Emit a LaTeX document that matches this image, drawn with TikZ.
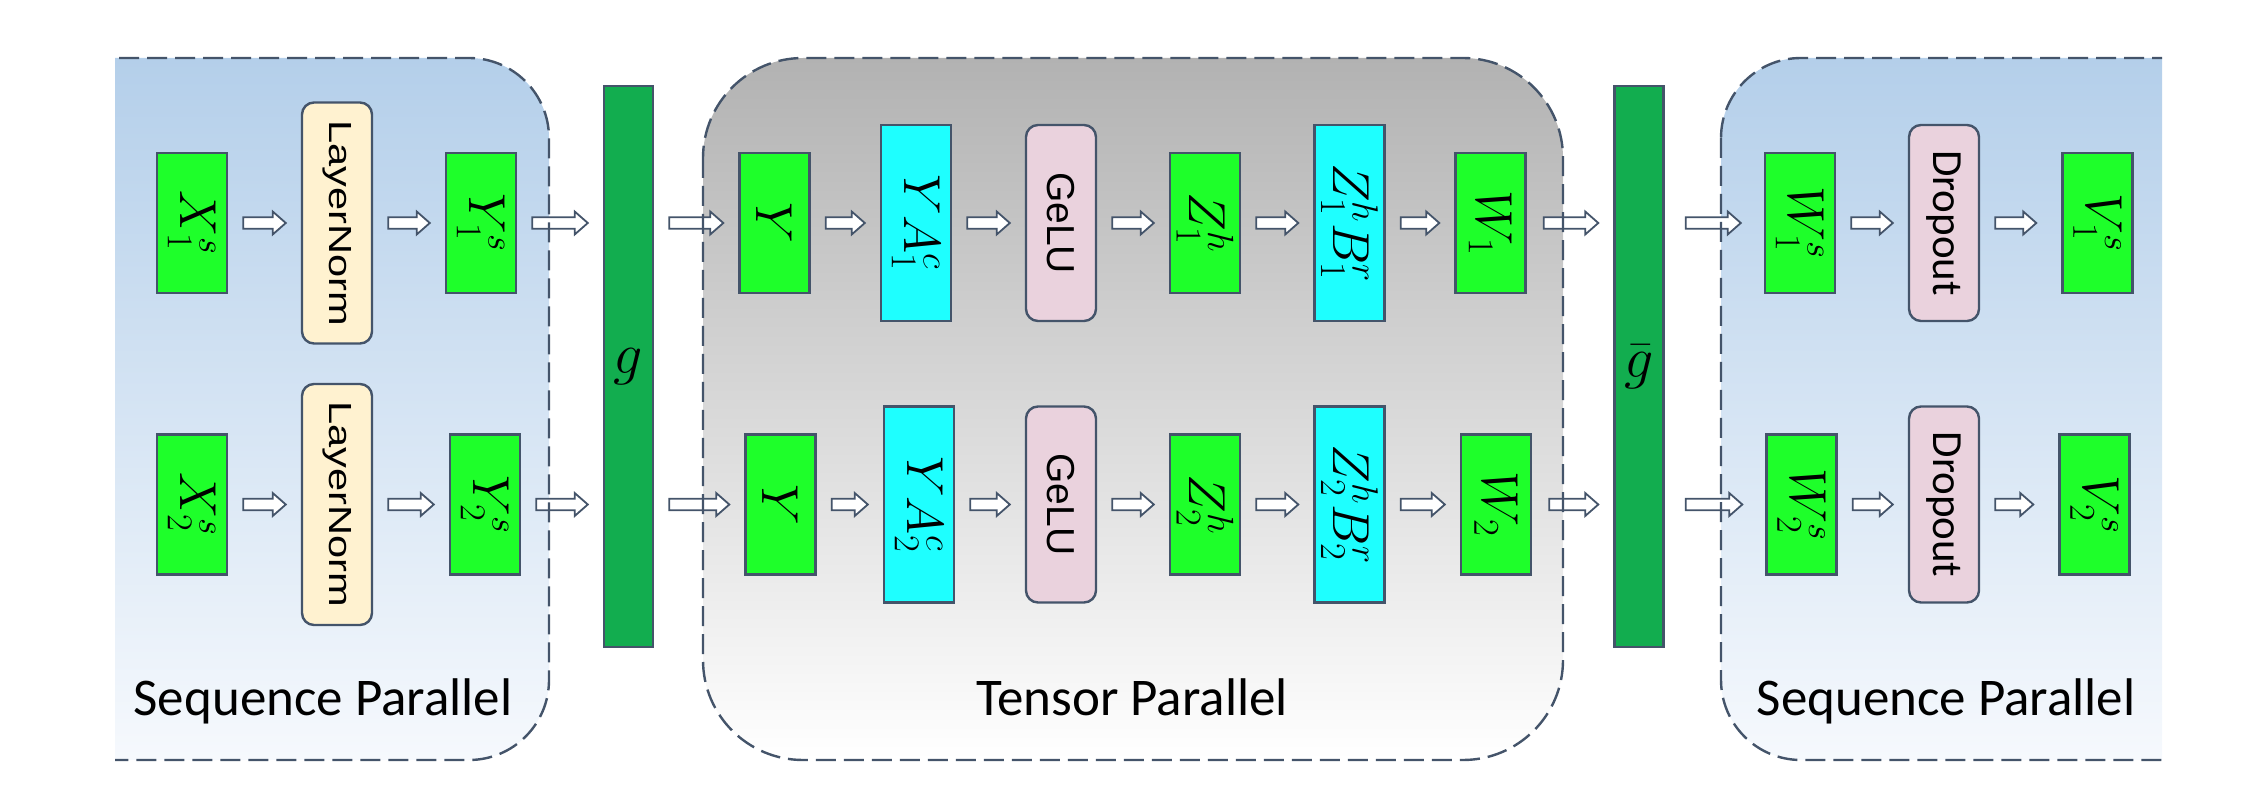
\RequirePackage{fix-cm}
\documentclass[tikz,border=0pt]{standalone}
\usepackage{fontspec}
\usepackage{graphicx}
\newfontfamily\calib{Carlito}
\newfontfamily\arialf{Liberation Sans}
\usetikzlibrary{calc,backgrounds}
\definecolor{bord}{HTML}{44546A}
\definecolor{lgreen}{HTML}{1EFF2A}
\definecolor{cyanb}{HTML}{1EFFFF}
\definecolor{cream}{HTML}{FFF2D0}
\definecolor{pinkb}{HTML}{EAD2DD}
\definecolor{dgreen}{HTML}{12AD4F}
\definecolor{spTop}{HTML}{B4CFEA}
\definecolor{spBot}{HTML}{F6F9FD}
\definecolor{tpTop}{HTML}{B2B2B2}
\definecolor{tpBot}{HTML}{FFFFFF}
\newcommand\rotlbl[1]{\rotatebox[origin=c]{-90}{#1}}
\newcommand\stretchlbl[1]{\rotatebox[origin=c]{-90}{\scalebox{1.3}[1]{#1}}}
\tikzset{
  gapA/.store in=\gapA, gapB/.store in=\gapB, gapA=7.5pt, gapB=7.5pt,
  box/.style={draw=bord, line width=1.2pt, inner sep=0pt, font=\fontsize{26}{30}\selectfont},
  gbox/.style={box, fill=lgreen, minimum width=35pt, minimum height=70pt},
  cbox/.style={box, fill=cyanb, minimum width=35pt, minimum height=98pt},
  lnbox/.style={box, fill=cream, rounded corners=6pt, minimum width=35pt, minimum height=120.5pt, font=\arialf\fontsize{16}{19}\selectfont},
  pbox/.style={box, fill=pinkb, rounded corners=6pt, minimum width=35pt, minimum height=98pt},
  gelu/.style={pbox, font=\arialf\fontsize{19.5}{23}\selectfont},
  drop/.style={pbox, font=\calib\fontsize{21.5}{25}\selectfont},
  bar/.style={box, fill=dgreen, minimum width=24.5pt, minimum height=280.5pt, font=\fontsize{29}{33}\selectfont},
  cont/.style={draw=bord, line width=1.2pt, dash pattern=on 10pt off 4pt},
  lbl/.style={font=\calib\fontsize{26.5}{32}\selectfont, anchor=base, inner sep=0pt},
  arr/.style={draw=bord, fill=white, line width=0.9pt, line join=miter,
    to path={let \p1=(\tikztostart), \p2=(\tikztotarget) in
      (\x1+\gapA,\y1+2.9pt) -- (\x2-\gapB-6.5pt,\y1+2.9pt) -- (\x2-\gapB-6.5pt,\y1+5.7pt)
      -- (\x2-\gapB,\y1) -- (\x2-\gapB-6.5pt,\y1-5.7pt) -- (\x2-\gapB-6.5pt,\y1-2.9pt)
      -- (\x1+\gapA,\y1-2.9pt) -- cycle}}
}
\begin{document}
\begin{tikzpicture}[x=0.5pt,y=-0.5pt]
\useasboundingbox (0,0) rectangle (2264,812);
% row 1
\node[gbox]  (x1)  at (192,223)    {\rotlbl{$X_1^s$}};
\node[lnbox] (ln1) at (337,223)    {\stretchlbl{LayerNorm}};
\node[gbox]  (y1)  at (481,223)    {\rotlbl{$Y_1^s$}};
\node[bar]   (g)   at (628.5,366.5) {$g$};
\node[gbox]  (ya)  at (774.5,223)  {\rotlbl{$Y$}};
\node[cbox]  (ya1) at (916,223)    {\rotlbl{$YA_1^c$}};
\node[gelu]  (ge1) at (1061,223)   {\rotlbl{GeLU}};
\node[gbox]  (z1)  at (1205,223)   {\rotlbl{$Z_1^h$}};
\node[cbox]  (zb1) at (1349.5,223) {\rotlbl{$Z_1^hB_1^r$}};
\node[gbox]  (w1)  at (1490.5,223) {\rotlbl{$W_1$}};
\node[bar]   (gb)  at (1639,366.5) {$\bar{g}$};
\node[gbox]  (ws1) at (1800,223)   {\rotlbl{$W_1^s$}};
\node[drop]  (dr1) at (1944,223)   {\rotlbl{Dropout}};
\node[gbox]  (v1)  at (2097.5,223) {\rotlbl{$V_1^s$}};
% row 2
\node[gbox]  (x2)  at (192,504.5)    {\rotlbl{$X_2^s$}};
\node[lnbox] (ln2) at (337,504.5)    {\stretchlbl{LayerNorm}};
\node[gbox]  (y2)  at (485,504.5)    {\rotlbl{$Y_2^s$}};
\node[gbox]  (yb)  at (780.5,504.5)  {\rotlbl{$Y$}};
\node[cbox]  (ya2) at (919,504.5)    {\rotlbl{$YA_2^c$}};
\node[gelu]  (ge2) at (1061,504.5)   {\rotlbl{GeLU}};
\node[gbox]  (z2)  at (1205,504.5)   {\rotlbl{$Z_2^h$}};
\node[cbox]  (zb2) at (1349.5,504.5) {\rotlbl{$Z_2^hB_2^r$}};
\node[gbox]  (w2)  at (1496,504.5)   {\rotlbl{$W_2$}};
\node[gbox]  (ws2) at (1801.5,504.5) {\rotlbl{$W_2^s$}};
\node[drop]  (dr2) at (1944,504.5)   {\rotlbl{Dropout}};
\node[gbox]  (v2)  at (2094.5,504.5) {\rotlbl{$V_2^s$}};
% labels
\node[lbl] (sp1) at (323,715)  {Sequence Parallel};
\node[lbl] (tp)  at (1132,715) {Tensor Parallel};
\node[lbl] (sp2) at (1946,715) {Sequence Parallel};
% containers
\begin{scope}[on background layer]
\clip (115,0) rectangle (2162,812);
\shade[top color=spTop, bottom color=spBot, rounded corners=40pt] (-200,58) rectangle (549,760);
\shade[top color=tpTop, bottom color=tpBot, rounded corners=50pt] (703,58) rectangle (1563,760);
\shade[top color=spTop, bottom color=spBot, rounded corners=40pt] (1721,58) rectangle (2400,760);
\end{scope}
% arrows
\foreach \a/\b in {x1/ln1, ln1/y1, ya/ya1, ya1/ge1, ge1/z1, z1/zb1, zb1/w1, ws1/dr1,
                   x2/ln2, ln2/y2, yb/ya2, ya2/ge2, ge2/z2, z2/zb2, zb2/w2, ws2/dr2}
  \draw[arr] (\a.east) to (\b.west);
\draw[arr] (y1.east) to (y1 -| g.west);
\draw[arr] (y2.east) to (y2 -| g.west);
\draw[arr] (ya -| g.east) to (ya.west);
\draw[arr] (yb -| g.east) to (yb.west);
\draw[arr,gapA=8.5pt] (w1.east) to (w1 -| gb.west);
\draw[arr,gapA=8.5pt] (w2.east) to (w2 -| gb.west);
\draw[arr,gapA=10.5pt,gapB=11.5pt] (ws1 -| gb.east) to (ws1.west);
\draw[arr,gapA=10.5pt,gapB=11.5pt] (ws2 -| gb.east) to (ws2.west);
\draw[arr,gapB=12.5pt] (dr1.east) to (v1.west);
\draw[arr,gapB=12.5pt] (dr2.east) to (v2.west);
% dashed borders
\begin{scope}
\clip (115,0) rectangle (2162,812);
\draw[cont, rounded corners=40pt] (-200,58) rectangle (549,760);
\draw[cont, rounded corners=50pt] (703,58) rectangle (1563,760);
\draw[cont, rounded corners=40pt] (1721,58) rectangle (2400,760);
\end{scope}
\end{tikzpicture}
\end{document}
